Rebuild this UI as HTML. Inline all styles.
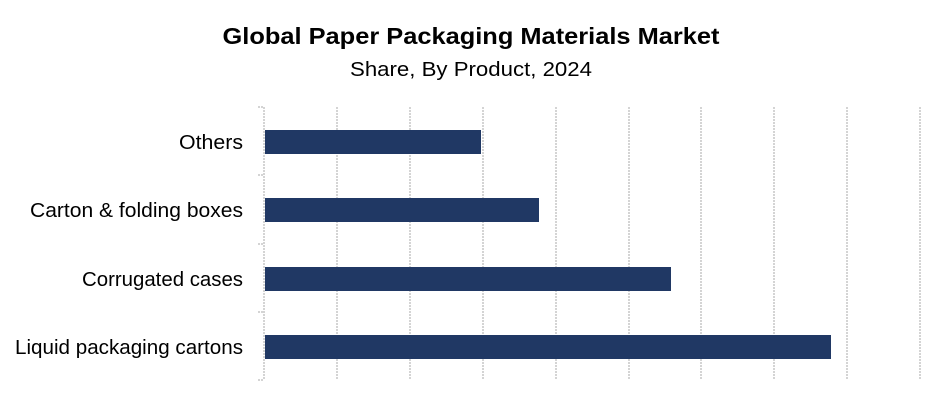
<!DOCTYPE html>
<html><head><style>body{margin:0;background:#fff}</style></head><body>
<svg width="943" height="404" xmlns="http://www.w3.org/2000/svg" font-family="Liberation Sans, sans-serif">
<rect width="943" height="404" fill="#fff"/>
<text x="471" y="44" text-anchor="middle" font-weight="bold" font-size="23" textLength="497" lengthAdjust="spacingAndGlyphs">Global Paper Packaging Materials Market</text>
<text x="471" y="76" text-anchor="middle" font-size="20" textLength="242" lengthAdjust="spacingAndGlyphs">Share, By Product, 2024</text>
<g stroke="#d4d4d4" stroke-width="2" stroke-dasharray="2,1">
<line x1="337" y1="107" x2="337" y2="380"/><line x1="410" y1="107" x2="410" y2="380"/><line x1="483" y1="107" x2="483" y2="380"/><line x1="556" y1="107" x2="556" y2="380"/><line x1="629" y1="107" x2="629" y2="380"/><line x1="701" y1="107" x2="701" y2="380"/><line x1="774" y1="107" x2="774" y2="380"/><line x1="847" y1="107" x2="847" y2="380"/><line x1="920" y1="107" x2="920" y2="380"/>
<line x1="264" y1="107" x2="264" y2="380"/>
<line x1="258" y1="107" x2="264" y2="107"/><line x1="258" y1="175" x2="264" y2="175"/><line x1="258" y1="244" x2="264" y2="244"/><line x1="258" y1="312" x2="264" y2="312"/><line x1="258" y1="380" x2="264" y2="380"/>
</g>
<g fill="#203864">
<rect x="265" y="130" width="216" height="24"/>
<rect x="265" y="198" width="274" height="24"/>
<rect x="265" y="267" width="406" height="24"/>
<rect x="265" y="335" width="566" height="24"/>
</g>
<g font-size="20" text-anchor="end" fill="#000">
<text x="243" y="149" textLength="64" lengthAdjust="spacingAndGlyphs">Others</text>
<text x="243" y="217" textLength="213" lengthAdjust="spacingAndGlyphs">Carton &amp; folding boxes</text>
<text x="243" y="286" textLength="161" lengthAdjust="spacingAndGlyphs">Corrugated cases</text>
<text x="243" y="354" textLength="228" lengthAdjust="spacingAndGlyphs">Liquid packaging cartons</text>
</g>
</svg>
</body></html>
